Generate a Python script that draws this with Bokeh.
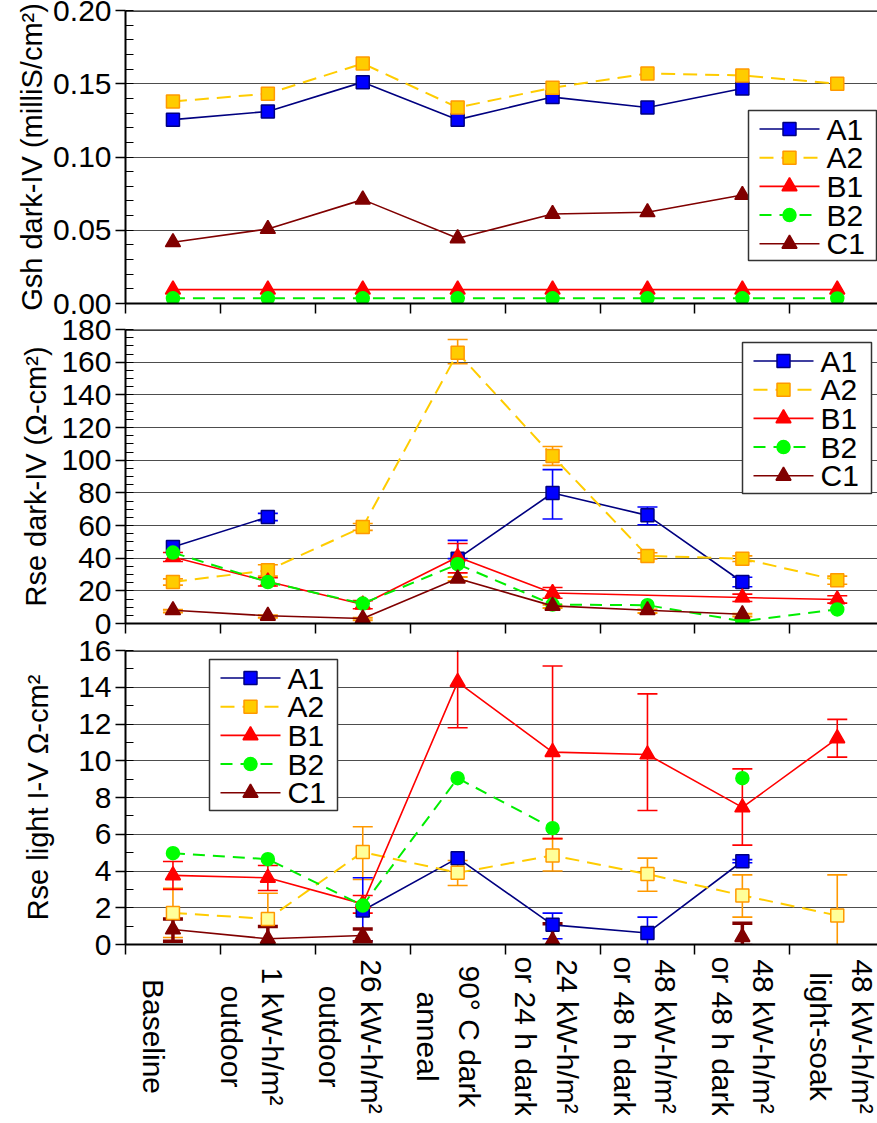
import math
from bokeh.plotting import figure
from bokeh.models import (Range1d, FixedTicker, Span, Whisker,
                          TeeHead, ColumnDataSource, NumeralTickFormatter)
from bokeh.layouts import column
from bokeh.embed import file_html
from bokeh.resources import INLINE
from bokeh.core.properties import value

nan = float("nan")

categories = ["Baseline", "1 kW-h/m\u00b2\noutdoor", "26 kW-h/m\u00b2\noutdoor",
              "90\u00b0 C dark\nanneal", "24 kW-h/m\u00b2\nor 24 h dark",
              "48 kW-h/m\u00b2\nor 48 h dark", "48 kW-h/m\u00b2\nor 48 h dark",
              "48 kW-h/m\u00b2\nlight-soak"]
series_names = ["A1", "A2", "B1", "B2", "C1"]

# ---- Panel 1: Gsh dark-IV (milliS/cm2)
gsh_A1 = [0.1255, 0.1311, 0.1511, 0.1255, 0.1409, 0.1338, 0.1468, nan]
gsh_A2 = [0.1379, 0.1432, 0.1638, 0.1338, 0.1473, 0.1570, 0.1557, 0.1500]
gsh_B1 = [0.0095, 0.0095, 0.0095, 0.0095, 0.0095, 0.0095, 0.0095, 0.0095]
gsh_B2 = [0.0035, 0.0035, 0.0035, 0.0035, 0.0035, 0.0035, 0.0035, 0.0035]
gsh_C1 = [0.0418, 0.0509, 0.0709, 0.0445, 0.0611, 0.0623, 0.0741, nan]
gsh_ticks = [0.0, 0.05, 0.10, 0.15, 0.20]

# ---- Panel 2: Rse dark-IV (Ohm-cm2)
rsd_A1 = [46.8, 65.2, nan, 39.7, 79.9, 66.2, 25.4, nan]
rsd_A2 = [25.4, 32.6, 59.1, 165.7, 102.5, 41.4, 39.7, 26.5]
rsd_B1 = [40.7, 25.7, 11.6, 40.7, 18.7, nan, 15.9, 14.7]
rsd_B2 = [43.4, 25.4, 12.2, 36.3, 11.6, 11.2, 1.4, 8.6]
rsd_C1 = [8.1, 4.7, 3.1, 27.5, 10.8, 8.1, 5.7, nan]
rsd_A1_lo = [nan, 63.0, nan, 39.7, 64.0, 60.5, 22.5, nan]
rsd_A1_hi = [nan, 67.4, nan, 50.9, 94.2, 71.3, 28.3, nan]
rsd_A2_lo = [23.5, 29.0, 57.0, 159.0, 96.8, 39.5, 38.0, 24.0]
rsd_A2_hi = [27.3, 36.0, 61.2, 173.9, 108.4, 43.3, 41.4, 29.0]
rsd_B1_lo = [38.0, 23.0, 9.0, 31.0, 15.5, nan, 13.5, 12.5]
rsd_B1_hi = [43.5, 28.0, 14.0, 49.0, 22.0, nan, 18.0, 17.0]
rsd_C1_lo = [6.8, 3.5, 2.0, 26.0, 9.5, 6.5, 4.3, nan]
rsd_C1_hi = [8.4, 5.0, 3.5, 28.5, 11.5, 8.6, 6.0, nan]

# ---- Panel 3: Rse light I-V (Ohm-cm2)
rsl_A1 = [nan, nan, 1.85, 4.70, 1.07, 0.63, 4.53, nan]
rsl_A2 = [1.72, 1.39, 5.03, 3.90, 4.85, 3.83, 2.67, 1.58]
rsl_B1 = [3.76, 3.63, 2.21, 14.28, 10.47, 10.34, 7.46, 11.22]
rsl_B2 = [4.97, 4.64, 2.12, 9.05, 6.33, nan, 9.05, nan]
rsl_C1 = [0.82, 0.31, 0.49, nan, 0.22, nan, 0.40, nan]
rsl_A1_lo = [nan, nan, 0.20, nan, 0.31, -0.24, 4.45, nan]
rsl_A1_hi = [nan, nan, 3.63, nan, 1.71, 1.49, 4.62, nan]
rsl_A2_lo = [0.38, 0.00, 3.54, 3.21, 4.00, 2.90, 1.49, -0.78]
rsl_A2_hi = [3.06, 2.79, 6.41, 4.57, 5.76, 4.70, 3.79, 3.79]
rsl_B1_lo = [3.00, 2.94, 1.71, 11.80, 5.76, 7.29, 5.41, 10.20]
rsl_B1_hi = [4.52, 4.30, 2.67, 16.70, 15.16, 13.64, 9.56, 12.25]
rsl_C1_lo = [0.18, -0.42, 0.15, nan, -0.42, nan, -0.05, nan]
rsl_C1_hi = [1.39, 0.98, 0.85, nan, 1.13, nan, 1.15, nan]

FONT = "Liberation Sans"
W = 877
LEFT = 125
FW = W - LEFT          # frame width in px
xs = [i + 0.5 for i in range(len(categories))]
x_range = Range1d(0, 7.924)

STYLE = {
    "A1": dict(line="#000080", dash="solid", marker="square", fill="#0000FF", mline="#000080", size=13, lw=1.6),
    "A2": dict(line="#FFCC00", dash="14 8", marker="square", fill="#FFCC00", mline="#FF9900", size=13, lw=2.0),
    "B1": dict(line="#FF0000", dash="solid", marker="triangle", fill="#FF0000", mline="#FF0000", size=15, lw=1.6),
    "B2": dict(line="#00EE00", dash="12 8", marker="circle", fill="#00FF00", mline="#00FF00", size=13, lw=2.0),
    "C1": dict(line="#800000", dash="solid", marker="triangle", fill="#800000", mline="#800000", size=15, lw=1.6),
}


def panel(height, ymax, btop, bbot, ylabel, ticks, minor, fmt, lab_standoff):
    p = figure(width=W, height=height, x_range=x_range, y_range=Range1d(0, ymax),
               output_backend="svg", toolbar_location=None,
               min_border_left=LEFT, min_border_right=0,
               min_border_top=btop, min_border_bottom=bbot)
    p.outline_line_color = None
    p.background_fill_color = "white"
    p.xgrid.visible = False
    p.ygrid.grid_line_color = "#4d4d4d"
    p.ygrid.grid_line_width = 1.2
    p.yaxis.ticker = FixedTicker(ticks=ticks, minor_ticks=minor)
    if fmt:
        p.yaxis.formatter = NumeralTickFormatter(format=fmt)
    p.yaxis.axis_label = ylabel
    p.yaxis.axis_label_text_font = FONT
    p.yaxis.axis_label_text_font_size = "29px"
    p.yaxis.axis_label_text_font_style = "normal"
    p.yaxis.axis_label_text_color = "black"
    p.yaxis.axis_label_standoff = lab_standoff
    p.yaxis.major_label_text_font = FONT
    p.yaxis.major_label_text_font_size = "30px"
    p.yaxis.major_label_text_color = "black"
    p.yaxis.major_label_standoff = 4
    p.yaxis.major_tick_out = 10
    p.yaxis.major_tick_in = 0
    p.yaxis.minor_tick_in = 8
    p.yaxis.minor_tick_out = 0
    p.yaxis.axis_line_width = 2
    p.yaxis.major_tick_line_width = 1.5
    nx = len(categories) + 1
    p.xaxis.ticker = FixedTicker(ticks=list(range(nx)))
    p.xaxis.major_label_overrides = {i: "" for i in range(nx)}
    p.xaxis.major_label_text_font_size = "10px"
    p.xaxis.major_label_standoff = 0
    p.xaxis.major_tick_out = 10
    p.xaxis.major_tick_in = 0
    p.xaxis.minor_tick_out = 0
    p.xaxis.minor_tick_in = 0
    p.xaxis.axis_line_width = 2
    p.xaxis.major_tick_line_width = 1.5
    p.add_layout(Span(location=ymax, dimension="width", line_color="black", line_width=2.5))
    return p


def errors(p, lo, hi, color, width=1.6, size=20):
    b, l, u = [], [], []
    for x, a, c in zip(xs, lo, hi):
        if not (math.isnan(a) or math.isnan(c)):
            b.append(x); l.append(a); u.append(c)
    src = ColumnDataSource(dict(base=b, lower=l, upper=u))
    w = Whisker(source=src, base="base", lower="lower", upper="upper", dimension="height",
                line_color=color, line_width=width,
                upper_head=TeeHead(size=size, line_color=color, line_width=width),
                lower_head=TeeHead(size=size, line_color=color, line_width=width))
    p.add_layout(w)


def series(p, name, ys, connect=False, fill=None):
    s = STYLE[name]
    if connect:
        lx = [x for x, y in zip(xs, ys) if not math.isnan(y)]
        ly = [y for y in ys if not math.isnan(y)]
    else:
        lx, ly = xs, ys
    p.line(lx, ly, line_color=s["line"], line_width=s["lw"], line_dash=s["dash"])
    p.scatter(xs, ys, marker=s["marker"], size=s["size"],
              fill_color=fill or s["fill"], line_color=s["mline"], line_width=1.5)


def legend_box(p, fh, ymax, left, top, w, h):
    """Legend drawn in the panel; left/top/w/h are pixel offsets within the frame."""
    span = x_range.end - x_range.start
    X = lambda px: x_range.start + px * span / FW
    Y = lambda py: ymax * (1 - py / fh)
    p.quad(left=[X(left)], right=[X(left + w)], top=[Y(top)], bottom=[Y(top + h)],
           fill_color="white", line_color="#333333", line_width=1.5)
    for i, name in enumerate(series_names):
        s = STYLE[name]
        cy = Y(top + 18.5 + 28.7 * i)
        p.line([X(left + 11), X(left + 71)], [cy, cy], line_color=s["line"],
               line_width=s["lw"], line_dash=s["dash"])
        p.scatter([X(left + 41)], [cy], marker=s["marker"], size=s["size"],
                  fill_color=s["fill"], line_color=s["mline"], line_width=1.5)
        p.text([X(left + 78)], [cy], text=[name], text_font=value(FONT), text_font_size="30px",
               text_align="left", text_baseline="middle", text_color="black")


# ---- top panel
p1 = panel(316, 0.20, 10, 13, "Gsh dark-IV (milliS/cm\u00b2)",
           gsh_ticks, [round(0.01 * i, 2) for i in range(21)], "0.00", 2)
for nm, ys in zip(series_names, [gsh_A1, gsh_A2, gsh_B1, gsh_B2, gsh_C1]):
    series(p1, nm, ys)
legend_box(p1, 293, 0.20, 623, 100, 128, 150)

# ---- middle panel
p2 = panel(320, 180, 13, 13, "Rse dark-IV (\u03a9-cm\u00b2)",
           list(range(0, 181, 20)), list(range(0, 181, 5)), None, 6)
errors(p2, rsd_A1_lo, rsd_A1_hi, "#0000FF")
errors(p2, rsd_A2_lo, rsd_A2_hi, "#FF9900")
errors(p2, rsd_B1_lo, rsd_B1_hi, "#FF0000")
errors(p2, rsd_C1_lo, rsd_C1_hi, "#FF9900", width=2)
series(p2, "A1", rsd_A1)
series(p2, "A2", rsd_A2)
series(p2, "B1", rsd_B1, connect=True)
series(p2, "B2", rsd_B2)
series(p2, "C1", rsd_C1)
legend_box(p2, 294, 180, 617, 13, 129, 151)

# ---- bottom panel
p3 = panel(321, 16, 14, 13, "Rse light I-V \u03a9-cm\u00b2",
           list(range(0, 17, 2)), list(range(0, 17, 1)), None, 21)
errors(p3, rsl_A2_lo, rsl_A2_hi, "#FF9900")
errors(p3, rsl_A1_lo, rsl_A1_hi, "#0000FF")
errors(p3, rsl_B1_lo, rsl_B1_hi, "#FF0000")
errors(p3, rsl_C1_lo, rsl_C1_hi, "#800000", width=3.5)
series(p3, "A1", rsl_A1)
series(p3, "A2", rsl_A2, fill="#FFFF99")
series(p3, "B1", rsl_B1)
series(p3, "B2", rsl_B2)
series(p3, "C1", rsl_C1)
legend_box(p3, 294, 16, 84, 9, 128, 151)

# ---- category labels (rotated, below the bottom panel)
p4 = figure(width=W, height=158, x_range=Range1d(0.21, 7.868), y_range=Range1d(0, 1),
            output_backend="svg", toolbar_location=None,
            x_axis_location=None, y_axis_location=None,
            min_border_left=LEFT, min_border_right=0, min_border_top=0, min_border_bottom=0)
p4.outline_line_color = None
p4.grid.visible = False
p4.text(x=xs, y=[0.5 for _ in xs], text=categories, angle=-math.pi / 2,
        text_align="center", text_baseline="middle", text_font=value(FONT),
        text_font_size="30px", text_line_height=1.26, text_color="black")

layout = column(p1, p2, p3, p4, spacing=0)
open("out.html", "w").write(file_html(layout, INLINE))
